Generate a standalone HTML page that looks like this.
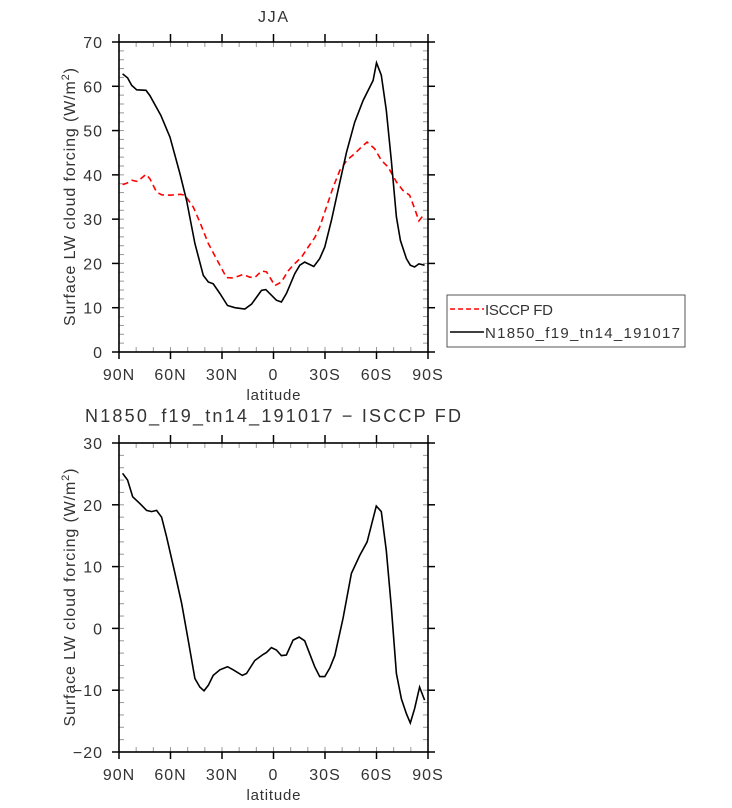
<!DOCTYPE html>
<html><head><meta charset="utf-8"><style>
body{margin:0;background:#fff;}
svg{display:block;font-family:"Liberation Sans",sans-serif;}
</style></head><body>
<svg id="chart" width="732" height="808"></svg>
<script>
const latTicks=[90,60,30,0,-30,-60,-90];
const latTickLabels=["90N","60N","30N","0","30S","60S","90S"];
const topYTicks=[0,10,20,30,40,50,60,70];
const botYTicks=[-20,-10,0,10,20,30];
const isccpLat=[87.9,85.5,82.6,79.3,74.3,72,68.1,65.2,60.3,54.1,51.6,46.7,42.9,38,32.2,27.4,23.5,17.7,13.8,10.9,7,4.1,-0.8,-4.6,-8.5,-11.4,-16.3,-20.2,-24,-26.9,-30.8,-34.7,-38.6,-42.8,-47.3,-51.2,-54.5,-58.9,-62.8,-66.7,-71.6,-75.4,-79.3,-82.2,-84.7,-88];
const isccpVal=[37.8,38.1,38.8,38.5,40.1,39.1,36.1,35.5,35.4,35.6,35.4,32.7,29.3,24.5,20.3,16.8,16.7,17.5,16.9,16.8,18.3,18.1,15,15.8,18.3,19.6,21.4,23.7,25.8,28.2,32.7,37.2,41,43.3,44.8,46.3,47.4,45.9,43.3,41.8,38.4,36.5,35.4,32.4,29.6,31.2];
const modelLat=[87.9,85,82.6,79.7,74.3,72,65.6,60.3,54.5,50.6,45.8,40.9,38,35.1,31.2,26.8,22.5,16.7,12.8,7,4.5,-1.7,-4.6,-7.5,-12.4,-15.3,-18.2,-23.5,-26.9,-29.9,-33.7,-37.6,-42.5,-47.3,-52.2,-58,-60,-62.8,-65.7,-68.6,-71.6,-73.9,-77.4,-79.7,-82.2,-84.7,-88];
const modelVal=[62.8,61.9,60.2,59.2,59.1,57.9,53.4,48.5,40.3,34.2,24.5,17.3,15.8,15.4,13.2,10.5,10,9.7,10.8,13.9,14.1,11.7,11.3,13.2,17.7,19.6,20.3,19.3,21.1,23.7,29.7,36.5,45.1,51.9,56.8,61.3,65.3,62.5,54.6,43.3,30.5,25.2,21.1,19.6,19.2,19.9,19.6];
const diffLat=[87.9,85,82,77.8,73.9,71,68.1,65.2,62.3,57.4,53.5,49.7,45.8,42.9,40.5,38,35.1,31.2,26.8,23.5,18.2,15.7,10.9,6,4.1,1.2,-1.7,-4.6,-7.5,-11.4,-14.9,-18.2,-24,-26.9,-29.9,-32.8,-35.7,-40.5,-45.4,-50.2,-54.5,-57,-59.9,-62.8,-65.7,-68.6,-71.6,-74.5,-77.4,-79.7,-82.2,-85.1,-88];
const diffVal=[25.1,24,21.3,20.2,19.1,18.9,19.1,18,14.8,8.9,4,-1.9,-8.1,-9.5,-10.1,-9.2,-7.6,-6.7,-6.2,-6.7,-7.6,-7.3,-5.2,-4.2,-3.9,-3.1,-3.5,-4.4,-4.3,-1.9,-1.4,-2,-6.2,-7.8,-7.8,-6.4,-4.4,1.6,8.9,11.8,14,16.7,19.8,18.9,12.6,3.5,-7.3,-11.4,-13.8,-15.3,-13,-9.5,-11.6];

const NS="http://www.w3.org/2000/svg";
const svg=document.getElementById('chart');
function mk(t,a,p){const e=document.createElementNS(NS,t);for(const k in a)e.setAttribute(k,a[k]);(p||svg).appendChild(e);return e;}
const L=119,R=428;
function xs(lat){return L+(90-lat)*(R-L)/180;}

function panel(name,top,bot,ymin,ymax,yticks,minorStep,titleText,titleY,titleLen,titleSize){
  const g=mk('g',{});
  
  
  const ys=v=>bot-(v-ymin)*(bot-top)/(ymax-ymin);
  for(let v=ymin;v<=ymax+1e-9;v+=minorStep){const y=ys(v);
    mk('line',{x1:L,x2:L+5,y1:y,y2:y,stroke:'#999','stroke-width':1},g);
    mk('line',{x1:R,x2:R-5,y1:y,y2:y,stroke:'#999','stroke-width':1},g);}
  for(let lat=80;lat>=-80;lat-=10){const x=xs(lat);
    mk('line',{x1:x,x2:x,y1:bot,y2:bot-5,stroke:'#999','stroke-width':1},g);
    mk('line',{x1:x,x2:x,y1:top,y2:top+5,stroke:'#999','stroke-width':1},g);}
  mk('rect',{x:L,y:top,width:R-L,height:bot-top,fill:'none',stroke:'#000','stroke-width':1.6},g);
  yticks.forEach(v=>{const y=ys(v);
    mk('line',{x1:L-7,x2:L,y1:y,y2:y,stroke:'#000','stroke-width':1.5},g);
    mk('line',{x1:R,x2:R+7,y1:y,y2:y,stroke:'#000','stroke-width':1.5},g);
    const t=mk('text',{x:L-16,y:y+6,'text-anchor':'end','font-size':16,fill:'#333','letter-spacing':1},g);
    t.textContent=(v<0?'\u2212'+(-v):v);
    
    });
  latTicks.forEach((lat,i)=>{const x=xs(lat);
    mk('line',{x1:x,x2:x,y1:top-8,y2:top,stroke:'#000','stroke-width':1.5},g);
    mk('line',{x1:x,x2:x,y1:bot,y2:bot+7,stroke:'#000','stroke-width':1.5},g);
    const t=mk('text',{x:x,y:bot+28,'text-anchor':'middle','font-size':16,fill:'#333','letter-spacing':1},g);
    t.textContent=latTickLabels[i];
    
    });
  const xt=mk('text',{x:(L+R)/2-27,y:bot+48,'font-size':15,fill:'#333',textLength:54,lengthAdjust:'spacing'},g);
  xt.textContent='latitude';
  
  
  const cy=(top+bot)/2;
  const yt=mk('text',{x:-129,y:0,'font-size':16,fill:'#333',textLength:258,lengthAdjust:'spacing',transform:`translate(75,${cy}) rotate(-90)`},g);
  yt.innerHTML='Surface LW cloud forcing (W/m<tspan dy="-6" font-size="11">2</tspan><tspan dy="6">)</tspan>';
  
  
  const tt=mk('text',{x:273-titleLen/2,y:titleY,'font-size':titleSize,fill:'#333',textLength:titleLen,lengthAdjust:'spacing'},g);
  tt.textContent=titleText;
  
  
  return {g,ys};
}
function line(g,ys,lats,vals,attrs,name){
  const d=lats.map((la,i)=>(i?'L':'M')+xs(la).toFixed(1)+','+ys(vals[i]).toFixed(1)).join('');
  const p=mk('path',Object.assign({d:d,fill:'none'},attrs),g);
  
  
}
const p1=panel('top-panel',42,352,0,70,topYTicks,2,'JJA',22,30,16);
line(p1.g,p1.ys,isccpLat,isccpVal,{stroke:'#f00','stroke-width':1.6,'stroke-dasharray':'6,4'},'isccp-fd-line');
line(p1.g,p1.ys,modelLat,modelVal,{stroke:'#000','stroke-width':1.6},'model-line');
const p2=panel('bottom-panel',443,752,-20,30,botYTicks,2,'N1850_f19_tn14_191017 \u2212 ISCCP FD',422,376,18);
line(p2.g,p2.ys,diffLat,diffVal,{stroke:'#000','stroke-width':1.6},'difference-line');

const lg=mk('g',{});


mk('rect',{x:447,y:295,width:238,height:52,fill:'#fff',stroke:'#555','stroke-width':1},lg);
mk('line',{x1:450,x2:484,y1:309,y2:309,stroke:'#f00','stroke-width':1.6,'stroke-dasharray':'5,3'},lg);
mk('line',{x1:450,x2:484,y1:332,y2:332,stroke:'#000','stroke-width':1.6},lg);
const l1=mk('text',{x:485,y:315,'font-size':15,fill:'#333',textLength:68,lengthAdjust:'spacing'},lg);l1.textContent='ISCCP FD';


const l2=mk('text',{x:485,y:338,'font-size':15,fill:'#333',textLength:195,lengthAdjust:'spacing'},lg);l2.textContent='N1850_f19_tn14_191017';


</script>
</body></html>
